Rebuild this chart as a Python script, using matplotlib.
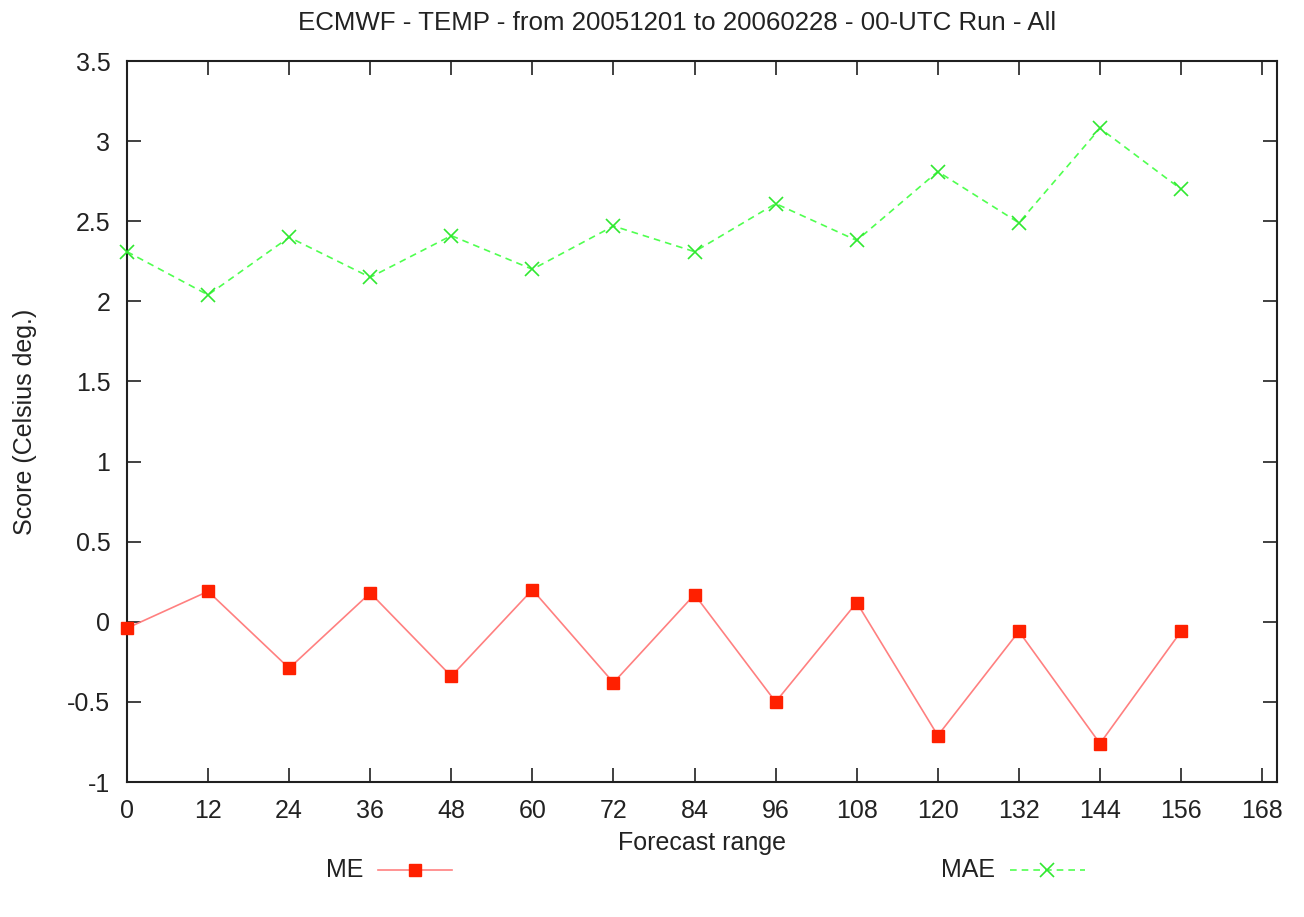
import numpy as np
import matplotlib.pyplot as plt
from matplotlib.lines import Line2D

plt.rcParams['font.family'] = ['Liberation Sans', 'DejaVu Sans']

# forecast ranges (hours)
ranges = [0, 12, 24, 36, 48, 60, 72, 84, 96, 108, 120, 132, 144, 156]
# mean error
me = [-0.04, 0.19, -0.29, 0.18, -0.34, 0.20, -0.38, 0.17, -0.50, 0.12,
      -0.71, -0.06, -0.76, -0.06]
# mean absolute error
mae = [2.31, 2.04, 2.40, 2.15, 2.41, 2.20, 2.47, 2.31, 2.61, 2.38,
       2.81, 2.49, 3.08, 2.70]

xticks = list(range(0, 169, 12))
yticks = [-1, -0.5, 0, 0.5, 1, 1.5, 2, 2.5, 3, 3.5]
ytick_labels = ['-1', '-0.5', '0', '0.5', '1', '1.5', '2', '2.5', '3', '3.5']

FS = 18
TXT = '#222222'

fig = plt.figure(figsize=(13.04, 9.17), dpi=100)
ax = fig.add_axes([127 / 1304, 1 - 782 / 917, 1150 / 1304, 721 / 917])

ax.plot(ranges, me, color='#ff8080', lw=1.2, marker='s', ms=8,
        markerfacecolor='#ff2000', markeredgecolor='#ff2000', zorder=3,
        clip_on=False)
ax.plot(ranges, mae, color='#50ff50', lw=1.2, ls=(0, (4, 3)), marker='x',
        ms=10, mew=1.2, markeredgecolor='#30e830', zorder=3, clip_on=False)

ax.set_xlim(0, 170.2)
ax.set_ylim(-1, 3.5)
ax.set_xticks(xticks)
ax.set_yticks(yticks)
ax.set_yticklabels(ytick_labels)
ax.tick_params(direction='in', length=10, width=1.2, top=True, right=True,
               labelsize=FS, color='#202020', labelcolor=TXT)
ax.tick_params(axis='x', pad=12)
ax.tick_params(axis='y', pad=12)
for s in ax.spines.values():
    s.set_linewidth(1.5)
    s.set_color('#202020')

ax.set_xlabel('Forecast range', fontsize=FS, labelpad=6, color=TXT)
ax.set_ylabel('Score (Celsius deg.)', fontsize=FS, labelpad=22, color=TXT)
ax.set_title('ECMWF - TEMP - from 20051201 to 20060228 - 00-UTC Run - All',
             fontsize=18.6, pad=22, color=TXT, x=0.478)

# legend below the plot, gnuplot style
ly = 1 - 870 / 917
fig.text(363 / 1304, ly, 'ME', fontsize=FS, ha='right', va='center', color=TXT)
fig.text(995 / 1304, ly, 'MAE', fontsize=FS, ha='right', va='center', color=TXT)
fig.add_artist(Line2D([378 / 1304, 452 / 1304], [ly] * 2,
                      color='#ff8080', lw=1.2))
fig.add_artist(Line2D([415 / 1304], [ly], marker='s', ms=8,
                      color='#ff2000'))
fig.add_artist(Line2D([1010 / 1304, 1085 / 1304], [ly] * 2,
                      color='#50ff50', lw=1.2, ls=(0, (4, 3))))
fig.add_artist(Line2D([1047 / 1304], [ly], marker='x', ms=10,
                      mew=1.2, color='#30e830'))

fig.savefig('out.png', dpi=100)
